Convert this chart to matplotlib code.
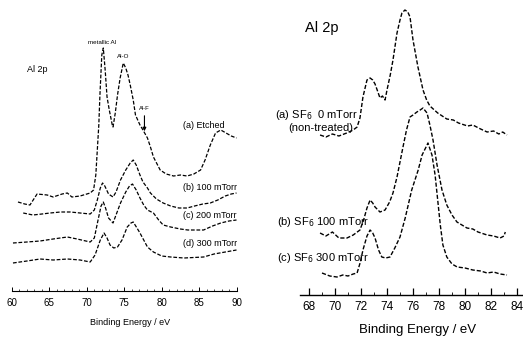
import matplotlib
matplotlib.use("Agg")
import matplotlib.pyplot as plt
import numpy as np

plt.rcParams['font.family'] = ['Liberation Sans', 'DejaVu Sans']

# ---- left panel: Al 2p, etched and SF6-treated (arb. units) ----
e_a = [60.8, 61.7, 62.4, 63.35, 64.7, 65.5, 66.7, 67.4, 68.0, 69.1, 70.45, 70.9, 71.2, 71.4, 71.6,
       71.75, 72.0, 72.2, 72.45, 72.7, 73.0, 73.4, 73.5, 73.8, 74.1, 74.45, 74.87, 75.2, 75.5, 75.8,
       76.2, 76.5, 77.1, 77.5, 78.1, 78.5, 78.9, 79.8, 80.6, 81.6, 82.5, 83.4, 84.3, 85.2, 85.8,
       86.5, 87.2, 87.9, 88.6, 89.3, 90.0]
i_a = [89, 87, 86, 97, 96, 94, 97, 98, 94, 95, 98, 101, 116, 141, 166,
       196, 236, 243, 221, 194, 181, 166, 164, 178, 196, 213, 228, 223, 216, 206,
       191, 176, 166, 161, 153, 144, 134, 121, 117, 115, 116, 115, 117, 121, 131,
       146, 158, 161, 158, 155, 153]

e_b = [61.5, 62.8, 64.0, 65.1, 66.5, 67.8, 69.1, 70.45, 71.0, 71.4, 71.8, 72.1, 72.4, 72.9, 73.5,
       73.9, 74.5, 75.2, 75.8, 76.2, 76.6, 77.1, 77.5, 78.1, 78.5, 79.3, 80.2, 81.2, 82.3, 83.4,
       84.4, 85.5, 86.5, 87.5, 88.5, 89.3, 90.0]
i_b = [78, 76, 77, 78, 79, 79, 78, 77, 81, 91, 103, 108, 105, 97, 94,
       99, 111, 121, 128, 131, 126, 116, 109, 103, 98, 92, 88, 85, 83, 83,
       85, 87, 88, 91, 95, 97, 98]

e_c = [60.13, 62.0, 63.75, 65.5, 67.4, 68.7, 70.45, 71.0, 71.5, 71.9, 72.2, 72.5, 72.9, 73.5, 73.9,
       74.5, 75.2, 75.7, 76.1, 76.6, 77.1, 77.6, 78.1, 78.9, 79.6, 80.2, 81.2, 82.5, 83.5, 85.6,
       86.8, 87.9, 89.0, 90.0]
i_c = [48, 49, 50, 52, 54, 52, 49, 53, 71, 85, 89, 83, 73, 68, 76,
       88, 99, 105, 107, 101, 93, 86, 81, 78, 71, 66, 64, 62, 61, 61,
       65, 68, 70, 71]

e_d = [60.13, 62.0, 63.75, 65.5, 67.4, 69.1, 70.45, 71.1, 71.8, 72.3, 72.7, 73.1, 73.6, 74.1, 74.7,
       75.4, 75.9, 76.2, 76.7, 77.1, 77.6, 78.1, 78.9, 80.0, 81.2, 83.0, 85.6, 87.0, 88.5, 90.0]
i_d = [28, 30, 32, 31, 32, 31, 29, 36, 51, 58, 53, 46, 43, 44, 51,
       64, 68, 69, 63, 58, 51, 44, 39, 35, 34, 33, 34, 37, 39, 41]

left_labels = ["(a) Etched", "(b) 100 mTorr", "(c) 200 mTorr", "(d) 300 mTorr"]
left_ticks = [60, 65, 70, 75, 80, 85, 90]

# ---- right panel: Al 2p, SF6 0 / 100 / 300 mTorr ----
e_r0 = [68.85, 69.3, 69.8, 70.3, 70.9, 71.4, 71.7, 71.92, 72.15, 72.46, 72.7, 72.9, 73.08, 73.3,
        73.46, 73.65, 73.85, 74.0, 74.25, 74.46, 74.77, 75.0, 75.15, 75.38, 75.6, 75.77, 76.0,
        76.38, 76.77, 77.05, 77.3, 77.9, 78.6, 79.1, 79.5, 80.2, 80.6, 81.2, 81.7, 82.2, 82.6,
        82.9, 83.23]
i_r0 = [160, 158, 161, 159, 162, 165, 168, 177, 198, 215, 217, 215, 211, 203,
        197, 199, 195, 205, 220, 235, 262, 275, 282, 285, 283, 278, 255,
        228, 205, 195, 189, 182, 176, 175, 172, 169, 170, 166, 163, 164, 161,
        163, 160]

e_r100 = [68.85, 69.3, 69.8, 70.3, 70.92, 71.4, 71.92, 72.2, 72.46, 72.7, 72.9, 73.08, 73.46,
          73.85, 74.2, 74.46, 74.77, 75.0, 75.23, 75.5, 75.77, 76.0, 76.3, 76.55, 76.77, 77.08,
          77.3, 77.54, 77.85, 78.23, 78.6, 79.0, 79.38, 80.15, 80.6, 81.0, 81.7, 82.2, 82.7,
          83.0, 83.1]
i_r100 = [62, 59, 63, 57, 57, 60, 65, 75, 87, 95, 92, 88, 83,
          85, 93, 102, 118, 133, 148, 165, 178, 180, 183, 185, 187, 182,
          170, 155, 130, 105, 90, 80, 73, 67, 66, 63, 60, 59, 57,
          59, 63]

e_r300 = [69.0, 69.6, 70.15, 70.6, 71.0, 71.4, 71.7, 71.95, 72.15, 72.46, 72.7, 72.9, 73.08,
          73.35, 73.6, 73.9, 74.23, 74.6, 75.0, 75.4, 75.9, 76.4, 76.7, 77.08, 77.15, 77.46,
          77.7, 77.9, 78.1, 78.3, 78.6, 79.0, 79.4, 80.0, 80.6, 81.2, 81.7, 82.2, 82.7, 83.23]
i_r300 = [22, 19, 18, 20, 19, 21, 22, 33, 45, 59, 65, 62, 57,
          45, 38, 37, 38, 47, 58, 77, 105, 125, 140, 150, 152, 140,
          120, 95, 70, 50, 38, 31, 28, 27, 25, 24, 22, 23, 21, 20]

right_ticks = [68, 70, 72, 74, 76, 78, 80, 82, 84]

W, H = 523, 342
fig = plt.figure(figsize=(W / 100, H / 100), dpi=100)

dash = (0, (3.0, 1.4))

# left axes
axL = fig.add_axes([12 / W, (H - 291) / H, 224.5 / W, 291 / H])
for e, i in [(e_a, i_a), (e_b, i_b), (e_c, i_c), (e_d, i_d)]:
    axL.plot(e, i, color='black', lw=0.9, ls=dash)
axL.set_xlim(60, 90)
axL.set_ylim(0, 291)
for s in ['top', 'left', 'right']:
    axL.spines[s].set_visible(False)
axL.spines['bottom'].set_linewidth(0.8)
axL.set_yticks([])
axL.set_xticks(left_ticks)
axL.set_xticks(np.arange(60, 91, 1), minor=True)
axL.tick_params(axis='x', which='major', direction='in', length=3, width=0.7, pad=5, labelsize=7)
axL.tick_params(axis='x', which='minor', direction='in', length=1.5, width=0.5)
axL.set_xlabel("Binding Energy / eV", fontsize=6.5)
axL.xaxis.set_label_coords(0.526, -0.093)

lab_y = [166, 104, 76, 48]
for t, y in zip(left_labels, lab_y):
    axL.text(82.8, y, t, fontsize=6.5, va='center', ha='left')
axL.text(62.0, 221, "Al 2p", fontsize=6.5, va='center', ha='left')
axL.text(72.05, 249, "metallic Al", fontsize=4.5, va='center', ha='center')
axL.text(74.87, 234, "Al-O", fontsize=4.5, va='center', ha='center')
axL.text(77.7, 183, "Al-F", fontsize=4.2, va='center', ha='center')
axL.annotate("", xy=(77.7, 157), xytext=(77.7, 178),
             arrowprops=dict(arrowstyle='-|>', color='black', lw=0.8, mutation_scale=5))

# right axes
axR = fig.add_axes([300 / W, (H - 295) / H, 223 / W, 295 / H])
for e, i in [(e_r0, i_r0), (e_r100, i_r100), (e_r300, i_r300)]:
    axR.plot(e, i, color='black', lw=1.0, ls=dash)
axR.set_xlim(68 + (300 - 309) / 13, 68 + (523 - 309) / 13)
axR.set_ylim(0, 295)
for s in ['top', 'left', 'right']:
    axR.spines[s].set_visible(False)
axR.spines['bottom'].set_linewidth(1.0)
axR.set_yticks([])
axR.set_xticks(right_ticks)
axR.set_xticks(np.arange(68, 84.5, 1), minor=True)
axR.tick_params(axis='x', which='major', direction='in', length=5, width=0.9, pad=4, labelsize=8.5)
axR.tick_params(axis='x', which='minor', direction='in', length=2, width=0.6)
axR.set_xlabel("Binding Energy / eV", fontsize=9.5)
axR.xaxis.set_label_coords(0.525, -0.10)

axR.text(67.69, 267, "Al 2p", fontsize=10.5, va='center', ha='left')
axR.text(65.38, 180, "(a) SF$_6$  0 mTorr", fontsize=8, va='center', ha='left')
axR.text(66.38, 167, "(non-treated)", fontsize=8, va='center', ha='left')
axR.text(65.54, 73, "(b) SF$_6$ 100 mTorr", fontsize=8, va='center', ha='left')
axR.text(65.54, 37, "(c) SF$_6$ 300 mTorr", fontsize=8, va='center', ha='left')

fig.savefig("out.png", dpi=100)
